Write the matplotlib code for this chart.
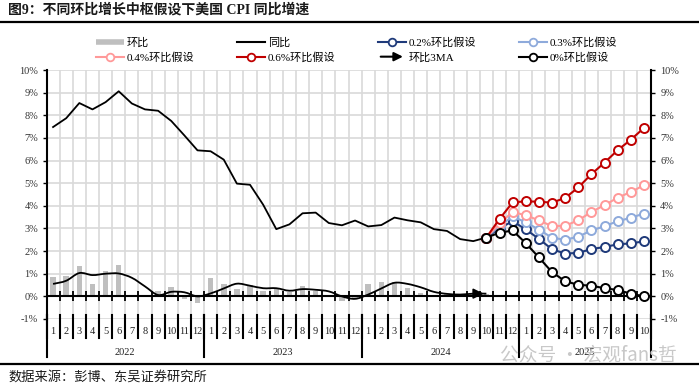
import numpy as np
import matplotlib
matplotlib.use('Agg')
import matplotlib.pyplot as plt
from matplotlib.lines import Line2D
from matplotlib.path import Path
from matplotlib.patches import PathPatch, FancyArrowPatch
from matplotlib.legend_handler import HandlerBase

plt.rcParams['font.family'] = ['Liberation Serif', 'Noto Sans CJK SC', 'DejaVu Sans']

# ---- data ----
years = ['2022', '2023', '2024', '2025']
year_len = [12, 12, 12, 10]
months = [str(m) for n in year_len for m in range(1, n + 1)]

# 环比 (NSA m/m, %), 2022-01 .. 2024-10
mom = [0.84, 0.91, 1.34, 0.56, 1.10, 1.37, -0.01, -0.04, 0.22, 0.41, -0.10, -0.31,
       0.80, 0.56, 0.33, 0.51, 0.25, 0.32, 0.19, 0.44, 0.25, -0.04, -0.20, -0.10,
       0.54, 0.62, 0.65, 0.39, 0.17, 0.03, 0.12, 0.08, 0.16, 0.12]
# 环比3MA
mom_3ma = [0.55, 0.69, 1.03, 0.94, 1.00, 1.01, 0.82, 0.44, 0.06, 0.20, 0.18, 0.00,
           0.13, 0.35, 0.56, 0.47, 0.36, 0.36, 0.25, 0.32, 0.29, 0.22, 0.00, -0.11,
           0.08, 0.35, 0.60, 0.55, 0.40, 0.20, 0.11, 0.08, 0.12, 0.12]
# 同比 (%), 2022-01 .. 2024-10
yoy = [7.48, 7.87, 8.54, 8.26, 8.58, 9.06, 8.52, 8.26, 8.20, 7.75, 7.11, 6.45,
       6.41, 6.04, 4.98, 4.93, 4.05, 2.97, 3.18, 3.67, 3.70, 3.24, 3.14, 3.35,
       3.09, 3.15, 3.48, 3.36, 3.27, 2.97, 2.89, 2.53, 2.44, 2.60]

# scenarios, 2024-10 .. 2025-10
scen_start = 33
scen_02 = [2.60, 3.01, 3.32, 2.96, 2.54, 2.08, 1.89, 1.92, 2.09, 2.18, 2.30, 2.34, 2.43]
scen_03 = [2.60, 3.11, 3.53, 3.27, 2.95, 2.59, 2.50, 2.64, 2.91, 3.10, 3.32, 3.47, 3.66]
scen_04 = [2.60, 3.22, 3.73, 3.58, 3.36, 3.10, 3.12, 3.36, 3.73, 4.03, 4.36, 4.61, 4.91]
scen_06 = [2.60, 3.42, 4.15, 4.20, 4.18, 4.14, 4.35, 4.81, 5.40, 5.91, 6.46, 6.92, 7.44]
scen_00 = [2.60, 2.81, 2.91, 2.35, 1.72, 1.07, 0.67, 0.51, 0.47, 0.36, 0.28, 0.12, 0.00]

scenarios = [
    ('0.2%环比假设', scen_02, '#1F3A7A'),
    ('0.3%环比假设', scen_03, '#8EAADB'),
    ('0.4%环比假设', scen_04, '#FF9999'),
    ('0.6%环比假设', scen_06, '#C00000'),
    ('0%环比假设', scen_00, '#000000'),
]


def smooth_path(xs, ys, t=1 / 6):
    # catmull-rom style bezier, like excel's smoothed line
    pts = np.column_stack([xs, ys]).astype(float)
    verts, codes = [pts[0]], [Path.MOVETO]
    n = len(pts)
    for k in range(n - 1):
        p0 = pts[k - 1] if k > 0 else pts[k]
        p1, p2 = pts[k], pts[k + 1]
        p3 = pts[k + 2] if k + 2 < n else pts[k + 1]
        verts += [p1 + (p2 - p0) * t, p2 - (p3 - p1) * t, p2]
        codes += [Path.CURVE4] * 3
    return Path(verts, codes)


class ArrowHandler(HandlerBase):
    def create_artists(self, legend, orig_handle, xdescent, ydescent, width, height, fontsize, trans):
        y = height / 2 - ydescent
        arr = FancyArrowPatch((-xdescent, y), (width - xdescent, y), arrowstyle='-|>',
                              mutation_scale=13, lw=1.5, color='k', transform=trans)
        return [arr]


class ArrowKey:
    pass


W, H = 699, 386
fig = plt.figure(figsize=(W / 100, H / 100), dpi=100)
ax = fig.add_axes([46.5 / W, 1 - 319 / H, (650.5 - 46.5) / W, (319 - 70) / H])

n = len(months)
x = np.arange(n)
bounds = np.arange(n + 1) - 0.5

ax.set_xlim(-0.5, n - 0.5)
ax.set_ylim(-1, 10)
ax.set_axisbelow(True)

ax.bar(x[:len(mom)], mom, width=0.42, color='#BFBFBF', zorder=2)
ax.plot(x[:len(yoy)], yoy, color='k', lw=1.3, zorder=3)

ma_path = smooth_path(x[:len(mom_3ma)], mom_3ma)
ax.add_patch(PathPatch(ma_path, fill=False, ec='k', lw=1.3, zorder=3))
last = len(mom_3ma) - 1
ax.annotate('', xy=(last, mom_3ma[-1]), xytext=(last - 0.9, mom_3ma[-1]),
            arrowprops=dict(arrowstyle='-|>', color='k', lw=1.3, mutation_scale=15), zorder=3)

xs = x[scen_start:scen_start + len(scen_02)]
for label, vals, col in scenarios:
    ax.plot(xs, vals, color=col, lw=1.5, marker='o', ms=6.5, mfc='white', mec=col, mew=1.4, zorder=4)

# grid / axes
yt = np.arange(-1, 11)
ax.set_yticks(yt)
ax.set_yticklabels([f'{v}%' for v in yt])
ax.set_xticks(bounds[1:-1])
ax.grid(True, color='#D9D9D9', lw=1.2)
ax.tick_params(axis='x', direction='inout', length=7, width=1.3, color='k', labelbottom=False)
ax.tick_params(axis='y', direction='out', length=3, width=1, labelsize=7.5, labelcolor='#333333', pad=3)
for s in ['top', 'right']:
    ax.spines[s].set_visible(False)
ax.spines['bottom'].set_position(('data', 0))
ax.spines['bottom'].set_linewidth(1.5)
ax.spines['bottom'].set_zorder(2.5)
ax.spines['left'].set_linewidth(1.5)

ax2 = ax.twinx()
ax2.set_ylim(-1, 10)
ax2.set_yticks(yt)
ax2.set_yticklabels([f'{v}%' for v in yt])
ax2.tick_params(axis='y', direction='out', length=3, width=1, labelsize=7.5, labelcolor='#333333', pad=4)
for s in ['top', 'left', 'bottom']:
    ax2.spines[s].set_visible(False)
ax2.spines['right'].set_linewidth(1.5)

# multi-level category labels
tr = ax.get_xaxis_transform()
for b in bounds:
    ax.plot([b, b], [0.016, -0.076], color='k', lw=1.5, transform=tr, clip_on=False)
for i, m in enumerate(months):
    ax.text(i, -0.052, m, transform=tr, ha='center', va='center', fontsize=7.5, color='#222222')
start = 0
for yr, ln in zip(years, year_len):
    ax.plot([start - 0.5, start - 0.5], [0.016, -0.153], color='k', lw=1.5, transform=tr, clip_on=False)
    ax.text(start + ln / 2 - 0.5, -0.133, yr, transform=tr, ha='center', va='center', fontsize=7.5, color='#222222')
    start += ln
ax.plot([n - 0.5, n - 0.5], [0.016, -0.153], color='k', lw=1.5, transform=tr, clip_on=False)

# legend
handles = [Line2D([], [], color='#BFBFBF', lw=4, solid_capstyle='butt'),
           Line2D([], [], color='k', lw=1.5)]
labels = ['环比', '同比']
for label, vals, col in scenarios[:4]:
    handles.append(Line2D([], [], color=col, lw=1.5, marker='o', ms=5.5, mfc='white', mec=col, mew=1.3))
    labels.append(label)
handles.append(ArrowKey())
labels.append('环比3MA')
col = scenarios[4][2]
handles.append(Line2D([], [], color=col, lw=1.5, marker='o', ms=5.5, mfc='white', mec=col, mew=1.3))
labels.append(scenarios[4][0])
order = [0, 4, 1, 5, 2, 6, 3, 7]
fig.legend([handles[k] for k in order], [labels[k] for k in order], ncol=4,
           loc='upper left', bbox_to_anchor=(96 / W, 1 - 37 / H), frameon=False,
           fontsize=8, handlelength=2.5, handletextpad=0.3, columnspacing=3.8,
           labelspacing=0.42, borderpad=0, borderaxespad=0, numpoints=1,
           handler_map={ArrowKey: ArrowHandler()})

# title, rules, source
fig.text(8 / W, 1 - 10 / H, '图9：不同环比增长中枢假设下美国 CPI 同比增速', fontsize=10,
         fontweight='bold', va='center', ha='left', color='#1a1a1a')
fig.add_artist(Line2D([0, 1], [1 - 22 / H, 1 - 22 / H], color='k', lw=1.6, transform=fig.transFigure))
fig.add_artist(Line2D([0, 1], [1 - 364 / H, 1 - 364 / H], color='k', lw=1.6, transform=fig.transFigure))
fig.text(8 / W, 1 - 377 / H, '数据来源：彭博、东吴证券研究所', fontsize=9.5, va='center', ha='left', color='#1a1a1a')
fig.text(500 / W, 1 - 355 / H, '公众号 · 宏观fans哲', fontsize=13.5, va='center', ha='left',
         color='#c8c8c8', family=['Noto Sans CJK SC'])

fig.savefig('out.png', dpi=100)
